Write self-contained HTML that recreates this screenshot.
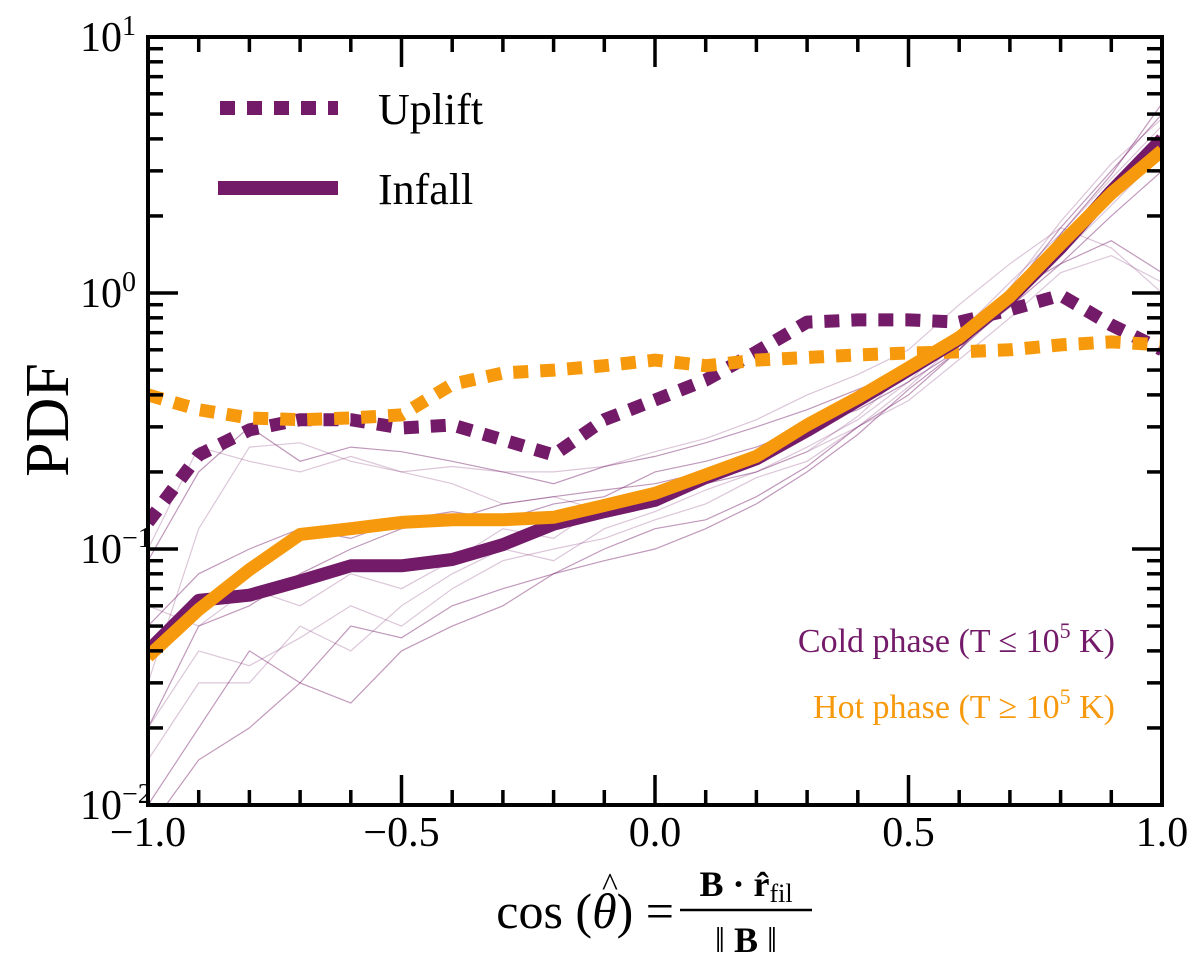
<!DOCTYPE html>
<html><head><meta charset="utf-8"><style>
body{margin:0;background:#fff;}
svg text{font-family:"Liberation Serif","DejaVu Serif",serif;}
</style></head><body>
<svg id="chart" width="1200" height="975" viewBox="0 0 1200 975" xmlns="http://www.w3.org/2000/svg">
<g id="bg"></g>
<g id="series"></g>
<g id="axes"></g>
<g>
 <line x1="220" y1="108" x2="338" y2="108" stroke="#731a68" stroke-width="14" stroke-dasharray="15 12"/>
 <text x="378" y="124" font-size="44">Uplift</text>
 <line x1="218" y1="188" x2="338" y2="188" stroke="#731a68" stroke-width="14"/>
 <text x="378" y="204" font-size="44">Infall</text>
</g>
<text x="1115" y="652" font-size="34" fill="#731a68" text-anchor="end">Cold phase (T ≤ 10<tspan dy="-14" font-size="22">5</tspan><tspan dy="14"> K)</tspan></text>
<text x="1115" y="718" font-size="34" fill="#f7990c" text-anchor="end">Hot phase (T ≥ 10<tspan dy="-14" font-size="22">5</tspan><tspan dy="14"> K)</tspan></text>
<text transform="translate(68,420) rotate(-90)" font-size="62" text-anchor="middle">PDF</text>
<g>
 <text x="674" y="928" font-size="50" text-anchor="end">cos (<tspan font-style="italic">θ</tspan>) =</text>
 <text x="602" y="896" font-size="34">^</text>
 <text x="746" y="896" font-size="36" text-anchor="middle" font-weight="bold">B · r̂<tspan font-weight="normal" font-size="26" dy="6">fil</tspan></text>
 <line x1="680" y1="910" x2="812" y2="910" stroke="#000" stroke-width="2.5"/>
 <text x="746" y="952" font-size="36" text-anchor="middle">‖ <tspan font-weight="bold">B</tspan> ‖</text>
</g>
</svg>
<script>
const xs=[-1,-0.9,-0.8,-0.7,-0.6,-0.5,-0.4,-0.3,-0.2,-0.1,0,0.1,0.2,0.3,0.4,0.5,0.6,0.7,0.8,0.9,1.0];
const infallCold=[0.040,0.063,0.066,0.075,0.086,0.086,0.091,0.104,0.125,0.14,0.155,0.19,0.225,0.29,0.38,0.50,0.66,0.95,1.5,2.5,4.0];
const infallHot=[0.038,0.058,0.083,0.114,0.12,0.127,0.13,0.13,0.133,0.148,0.165,0.195,0.23,0.305,0.39,0.51,0.67,0.97,1.55,2.45,3.6];
const upliftCold=[0.127,0.233,0.292,0.32,0.32,0.297,0.305,0.267,0.233,0.32,0.382,0.457,0.589,0.77,0.785,0.785,0.77,0.86,0.98,0.75,0.60];
const upliftHot=[0.40,0.35,0.325,0.32,0.325,0.334,0.44,0.487,0.50,0.52,0.547,0.52,0.547,0.56,0.573,0.583,0.589,0.60,0.627,0.644,0.627];
const bgCurves=[
[0.09,0.2,0.3,0.22,0.25,0.24,0.22,0.2,0.18,0.21,0.23,0.26,0.3,0.35,0.42,0.5,0.7,1.0,1.3,1.6,1.2],
[0.03,0.12,0.25,0.26,0.22,0.2,0.21,0.2,0.2,0.21,0.24,0.27,0.32,0.4,0.48,0.6,0.9,1.3,1.8,1.5,1.0],
[0.02,0.05,0.06,0.08,0.1,0.12,0.13,0.15,0.16,0.17,0.18,0.2,0.22,0.3,0.35,0.45,0.6,1.0,1.8,3.0,5.0],
[0.015,0.03,0.03,0.05,0.04,0.06,0.08,0.1,0.09,0.12,0.14,0.17,0.2,0.25,0.32,0.45,0.7,1.1,1.7,2.8,4.5],
[0.01,0.02,0.04,0.03,0.05,0.045,0.06,0.07,0.08,0.1,0.12,0.13,0.16,0.21,0.3,0.4,0.6,0.9,1.6,2.6,4.2],
[0.06,0.05,0.07,0.06,0.08,0.07,0.09,0.12,0.11,0.15,0.17,0.18,0.2,0.24,0.33,0.5,0.65,0.9,1.4,2.2,3.5],
[0.008,0.015,0.02,0.03,0.025,0.04,0.05,0.06,0.08,0.09,0.1,0.12,0.15,0.2,0.28,0.42,0.6,0.95,1.7,2.9,5.5],
[0.1,0.25,0.22,0.2,0.23,0.2,0.18,0.15,0.16,0.14,0.15,0.18,0.2,0.24,0.3,0.38,0.55,0.8,1.2,1.4,1.1],
[0.05,0.08,0.1,0.12,0.11,0.13,0.14,0.13,0.15,0.16,0.2,0.22,0.25,0.3,0.38,0.48,0.62,0.88,1.3,2.0,3.0],
[0.02,0.04,0.035,0.045,0.06,0.05,0.07,0.09,0.1,0.11,0.13,0.15,0.19,0.22,0.3,0.43,0.65,1.05,1.9,3.2,4.8]
];
const xTicks=[-1,-0.5,0,0.5,1];
const xTickLabels=["−1.0","−0.5","0.0","0.5","1.0"];
const yExps=[-2,-1,0,1];

const L=148,R=1162,T=37,B=805;
const X=v=>L+(v+1)/2*(R-L);
const Y=p=>T+(1-Math.log10(p))/3*(B-T);
const NS="http://www.w3.org/2000/svg";
function mk(tag,attrs,parent){const e=document.createElementNS(NS,tag);for(const k in attrs)e.setAttribute(k,attrs[k]);parent.appendChild(e);return e;}
function pts(ys){return xs.map((x,i)=>X(x).toFixed(1)+","+Y(ys[i]).toFixed(1)).join(" ");}
const bg=document.getElementById('bg');
const defsClip=mk('clipPath',{id:'clip'},document.getElementById('chart'));
mk('rect',{x:L,y:T,width:R-L,height:B-T},defsClip);
bg.setAttribute('clip-path','url(#clip)');
bgCurves.forEach((c,i)=>{
 const e=mk('polyline',{points:pts(c),fill:'none',stroke:'#731a68','stroke-width':1.2,'stroke-opacity':i%2?0.25:0.45},bg);
 
 
});
const sg=document.getElementById('series');
sg.setAttribute('clip-path','url(#clip)');
[[upliftCold,'#731a68',true,'uplift-cold-line'],[upliftHot,'#f7990c',true,'uplift-hot-line'],[infallCold,'#731a68',false,'infall-cold-line'],[infallHot,'#f7990c',false,'infall-hot-line']].forEach(s=>{
 const a={points:pts(s[0]),fill:'none',stroke:s[1],'stroke-width':13,'stroke-linejoin':'round'};
 if(s[2])a['stroke-dasharray']='15 12';
 const e=mk('polyline',a,sg);
 
 
});
const ax=document.getElementById('axes');
const fr=mk('rect',{x:L,y:T,width:R-L,height:B-T,fill:'none',stroke:'#000','stroke-width':4},ax);


for(let k=-10;k<=10;k++){const v=k/10,x=X(v),maj=k%5===0,len=maj?30:15;
 mk('line',{x1:x,y1:B,x2:x,y2:B-len,stroke:'#000','stroke-width':3.5},ax);
 mk('line',{x1:x,y1:T,x2:x,y2:T+len,stroke:'#000','stroke-width':3.5},ax);}
xTicks.forEach((v,i)=>{const t=mk('text',{x:X(v),y:846,'font-size':42,'text-anchor':'middle'},ax);t.textContent=xTickLabels[i];
 
 });
for(let e=-2;e<1;e++)for(let m=2;m<=9;m++){const y=Y(m*Math.pow(10,e));
 mk('line',{x1:L,y1:y,x2:L+15,y2:y,stroke:'#000','stroke-width':3.5},ax);
 mk('line',{x1:R,y1:y,x2:R-15,y2:y,stroke:'#000','stroke-width':3.5},ax);}
yExps.forEach(e=>{const y=Y(Math.pow(10,e));
 mk('line',{x1:L,y1:y,x2:L+30,y2:y,stroke:'#000','stroke-width':3.5},ax);
 mk('line',{x1:R,y1:y,x2:R-30,y2:y,stroke:'#000','stroke-width':3.5},ax);
 const t=mk('text',{x:122,y:y+14,'font-size':42,'text-anchor':'end'},ax);t.textContent='10';
 
 
 const s=mk('text',{x:122,y:y-2,'font-size':28},ax);s.textContent=e<0?'−'+(-e):String(e);
 
 
});
</script>
</body></html>
